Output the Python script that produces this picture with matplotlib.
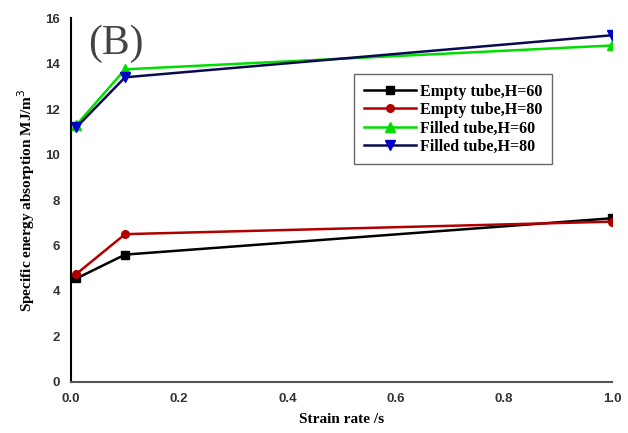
import matplotlib
matplotlib.use("Agg")
import matplotlib.pyplot as plt

# strain rate values
strain_rate = [0.01, 0.1, 1.0]

# specific energy absorption (MJ/m^3)
empty_h60 = [4.55, 5.6, 7.2]
empty_h80 = [4.75, 6.5, 7.05]
filled_h60 = [11.3, 13.75, 14.8]
filled_h80 = [11.2, 13.4, 15.25]

labels = ["Empty tube,H=60", "Empty tube,H=80", "Filled tube,H=60", "Filled tube,H=80"]

fig = plt.figure(figsize=(6.28, 4.33), dpi=100)
ax = fig.add_axes([0.113, 0.118, 0.862, 0.840])

ax.plot(strain_rate, empty_h60, color="black", marker="s", ms=5.5, lw=1.8, label=labels[0])
ax.plot(strain_rate, empty_h80, color="#b00000", marker="o", ms=5.5, lw=1.8, label=labels[1])
ax.plot(strain_rate, filled_h60, color="#00dd00", marker="^", ms=6.5, lw=1.8, label=labels[2])
ax.plot(strain_rate, filled_h80, color="#0a0a50", marker="v", ms=6.5, lw=1.8,
        markerfacecolor="#0000cc", markeredgecolor="#0000cc", label=labels[3])

ax.set_xlim(0, 1.0)
ax.set_ylim(0, 16)
ax.set_xticks([0, 0.2, 0.4, 0.6, 0.8, 1.0])
ax.set_yticks(range(0, 17, 2))
ax.set_xticklabels(["0.0", "0.2", "0.4", "0.6", "0.8", "1.0"])
ax.tick_params(length=0, pad=8, labelsize=9.5, labelcolor="#333333")
for t in ax.get_xticklabels() + ax.get_yticklabels():
    t.set_fontfamily("Liberation Sans")
    t.set_fontweight("bold")

ax.spines["top"].set_visible(False)
ax.spines["right"].set_visible(False)
ax.spines["left"].set_linewidth(1.5)
ax.spines["bottom"].set_linewidth(1.5)
ax.spines["bottom"].set_color("#555555")

ax.set_xlabel("Strain rate /s", fontfamily="Liberation Serif", fontweight="bold",
              fontsize=11, labelpad=6)
ax.set_ylabel("Specific energy absorption MJ/m$^3$", fontfamily="Liberation Serif",
              fontweight="bold", fontsize=11, labelpad=6)

# panel letter
fig.text(0.14, 0.875, "(B)", fontfamily="Liberation Serif", fontsize=30, color="#444444")

leg = ax.legend(loc="upper left", bbox_to_anchor=(0.564, 0.829),
                bbox_transform=fig.transFigure, frameon=True, fancybox=False,
                borderaxespad=0,
                prop={"family": "Liberation Serif", "weight": "bold", "size": 11.5},
                handlelength=3.3, labelspacing=0.15, borderpad=0.6, handletextpad=0.2)
leg.get_frame().set_edgecolor("#444444")
leg.get_frame().set_linewidth(1.0)

plt.savefig("out.png", dpi=100)
